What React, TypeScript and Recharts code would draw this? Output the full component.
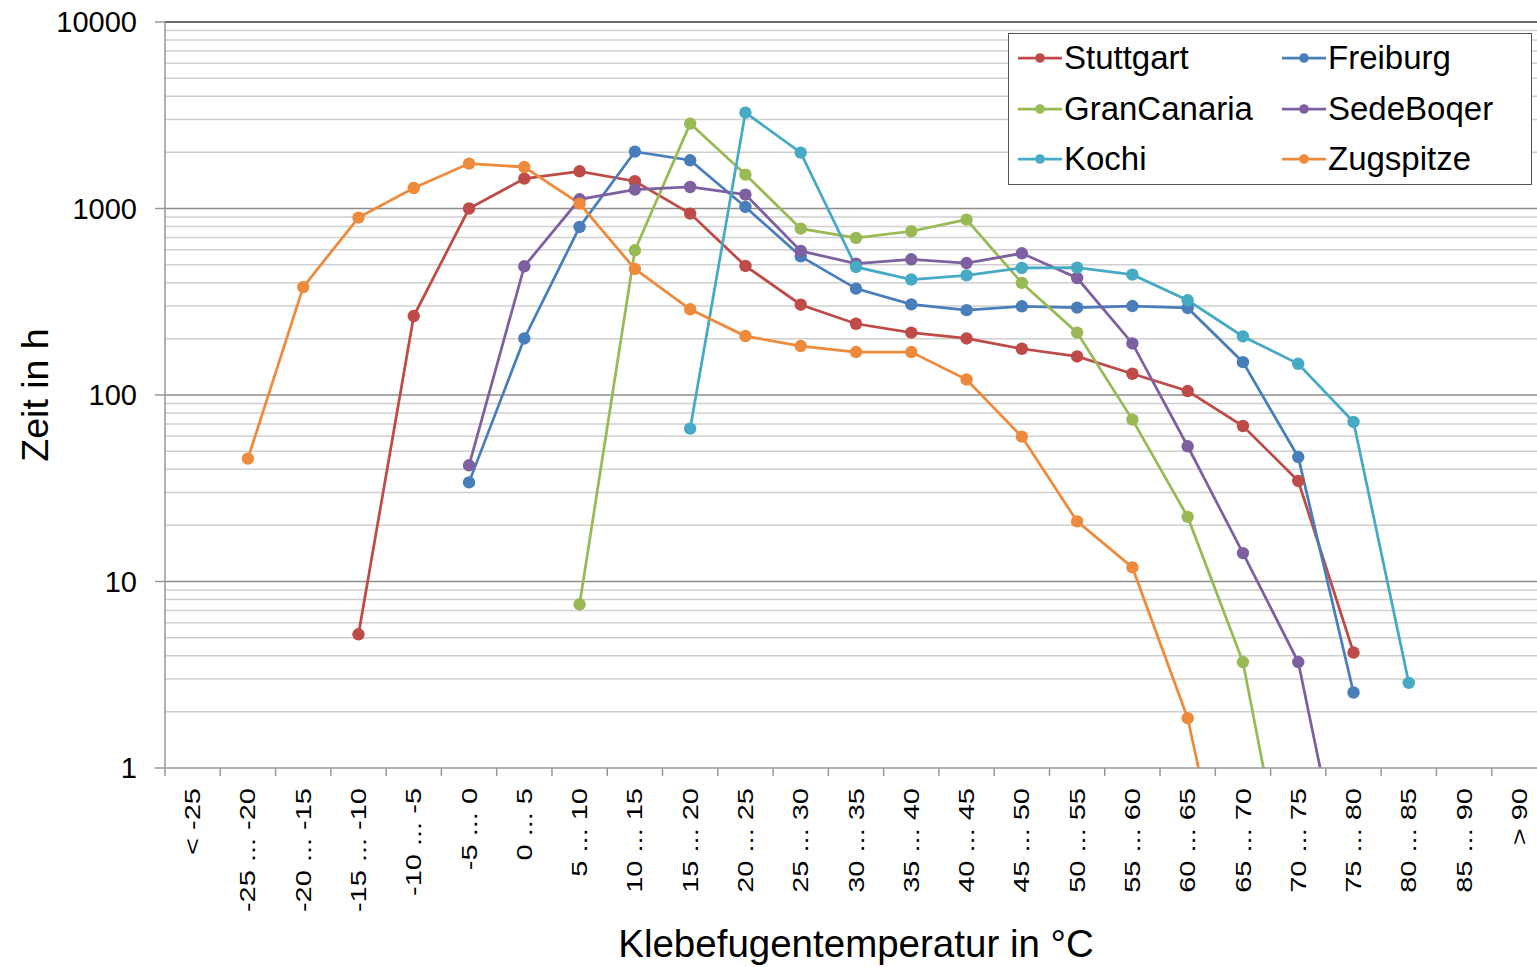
import { LineChart, Line, XAxis, YAxis, CartesianGrid, ReferenceLine, Legend, Label } from 'recharts';

const FONT = '"Liberation Sans", Arial, Helvetica, sans-serif';

// temperature classes on the x axis
const categories = [
  '< -25', '-25 ... -20', '-20 ... -15', '-15 ... -10', '-10 ... -5', '-5 ... 0',
  '0 ... 5', '5 ... 10', '10 ... 15', '15 ... 20', '20 ... 25', '25 ... 30',
  '30 ... 35', '35 ... 40', '40 ... 45', '45 ... 50', '50 ... 55', '55 ... 60',
  '60 ... 65', '65 ... 70', '70 ... 75', '75 ... 80', '80 ... 85', '85 ... 90', '> 90',
];

// hours per temperature class, one array per site (null = no hours in that class)
const stuttgart = [null, null, null, 5.21, 265, 1000, 1446, 1583, 1400, 939, 492, 305, 241, 216, 201, 177, 161, 130, 105, 68.2, 34.6, 4.16, null, null, null];
const freiburg = [null, null, null, null, null, 34.0, 201, 796, 2018, 1814, 1019, 554, 372, 306, 285, 299, 294, 300, 293, 150, 46.5, 2.54, null, null, null];
const granCanaria = [null, null, null, null, null, null, null, 7.55, 597, 2853, 1520, 780, 695, 755, 872, 399, 216, 73.8, 22.2, 3.7, 0.108, null, null, null, null];
const sedeBoqer = [null, null, null, null, null, 42.0, 490, 1120, 1263, 1304, 1187, 592, 506, 534, 510, 575, 424, 189, 53.1, 14.2, 3.7, 0.137, null, null, null];
const kochi = [null, null, null, null, null, null, null, null, null, 66.0, 3268, 1994, 486, 416, 438, 480, 482, 442, 322, 206, 147, 71.7, 2.86, null, null];
const zugspitze = [null, 45.6, 379, 894, 1288, 1741, 1669, 1062, 474, 288, 207, 183, 170, 170, 121, 59.8, 21.0, 11.9, 1.85, 0.08, null, null, null, null, null];

const series = [
  { key: 'stuttgart', name: 'Stuttgart', color: '#BE4B48', values: stuttgart },
  { key: 'freiburg', name: 'Freiburg', color: '#4A7EBB', values: freiburg },
  { key: 'granCanaria', name: 'GranCanaria', color: '#98B954', values: granCanaria },
  { key: 'sedeBoqer', name: 'SedeBoqer', color: '#7D60A0', values: sedeBoqer },
  { key: 'kochi', name: 'Kochi', color: '#46AAC5', values: kochi },
  { key: 'zugspitze', name: 'Zugspitze', color: '#EE8A3C', values: zugspitze },
];

const decades = [1, 10, 100, 1000, 10000];
const minorSteps = [2, 3, 4, 5, 6, 7, 8, 9];
const minorGrid = decades.slice(0, -1).flatMap((d) => minorSteps.map((m) => d * m));

const data = categories.map((cat, i) => {
  const row: any = { cat };
  series.forEach((s) => {
    row[s.key] = s.values[i];
  });
  return row;
});

const CHART_W = 1560;
const CHART_H = 967;
const Y_AXIS_W = 165;
const MARGIN_TOP = 22;
const MARGIN_RIGHT = 13;
const X_AXIS_H = 199;
const PLOT_BOTTOM = CHART_H - X_AXIS_H;
const BAND = (CHART_W - Y_AXIS_W - MARGIN_RIGHT) / categories.length;

// rotated (slightly condensed) category label plus tick marks on the class boundaries
function CategoryTick(props: any) {
  const { x, payload, index } = props;
  const ty = PLOT_BOTTOM + 20;
  const left = x - BAND / 2;
  return (
    <g>
      <line x1={left} x2={left} y1={PLOT_BOTTOM} y2={PLOT_BOTTOM + 8} stroke='#999' strokeWidth={1.5} />
      {index === categories.length - 1 && (
        <line x1={x + BAND / 2} x2={x + BAND / 2} y1={PLOT_BOTTOM} y2={PLOT_BOTTOM + 8} stroke='#999' strokeWidth={1.5} />
      )}
      <text
        x={0}
        y={0}
        transform={`translate(${x}, ${ty}) rotate(-90) scale(1, 0.74)`}
        textAnchor='end'
        dominantBaseline='central'
        fontSize={29}
        fontFamily={FONT}
        fill='#000'>
        {payload.value}
      </text>
    </g>
  );
}

// two-column legend box, same order as the series list
function LegendBox() {
  return (
    <div
      style={{
        width: 524,
        height: 152,
        boxSizing: 'border-box',
        border: '1.5px solid #555',
        background: '#fff',
        position: 'relative',
        fontFamily: FONT,
      }}>
      {series.map((s, i) => {
        const col = i % 2;
        const row = Math.floor(i / 2);
        return (
          <div
            key={s.key}
            style={{
              position: 'absolute',
              left: col ? 273 : 9,
              top: 24 + row * 50.5 - 20,
              height: 40,
              display: 'flex',
              alignItems: 'center',
            }}>
            <svg width={44} height={14}>
              <line x1={0} x2={44} y1={7} y2={7} stroke={s.color} strokeWidth={2.75} />
              <circle cx={22} cy={7} r={4.8} fill={s.color} />
            </svg>
            <span style={{ fontSize: 33, lineHeight: '40px', marginLeft: 2, color: '#000' }}>{s.name}</span>
          </div>
        );
      })}
    </div>
  );
}

export default function App() {
  return (
    <div
      style={{
        position: 'absolute',
        left: 0,
        top: 0,
        width: 1537,
        height: 967,
        overflow: 'hidden',
        background: '#fff',
        fontFamily: FONT,
      }}>
      <LineChart
        width={CHART_W}
        height={CHART_H}
        data={data}
        margin={{ top: MARGIN_TOP, right: MARGIN_RIGHT, bottom: 0, left: 0 }}>
        <CartesianGrid vertical={false} horizontalValues={minorGrid} stroke='#cfcfcf' strokeWidth={1.5} />
        {decades.slice(1).map((d) => (
          <ReferenceLine key={d} y={d} stroke={d === 10000 ? '#3a3a3a' : '#8c8c8c'} strokeWidth={1.5} />
        ))}
        <XAxis
          dataKey='cat'
          scale='band'
          interval={0}
          height={X_AXIS_H}
          tick={<CategoryTick />}
          tickLine={false}
          stroke='#999'
          strokeWidth={1.5}>
          <Label
            value='Klebefugentemperatur in °C'
            position='insideBottom'
            offset={10}
            fontSize={38.5}
            fill='#000'
            fontFamily={FONT}
          />
        </XAxis>
        <YAxis
          scale='log'
          domain={[1, 10000]}
          allowDataOverflow
          ticks={decades}
          interval={0}
          width={Y_AXIS_W}
          tickSize={10}
          tickMargin={18}
          stroke='#999'
          strokeWidth={1.5}
          tick={{ fontSize: 29, fill: '#000', fontFamily: FONT }}>
          <Label
            value='Zeit in h'
            angle={-90}
            position='insideLeft'
            offset={35}
            fontSize={37.5}
            fill='#000'
            fontFamily={FONT}
            style={{ textAnchor: 'middle' }}
          />
        </YAxis>
        <Legend
          layout='vertical'
          align='center'
          verticalAlign='middle'
          content={<LegendBox />}
          wrapperStyle={{ left: 1008, top: 33, width: 524, height: 152 }}
        />
        {series.map((s) => (
          <Line
            key={s.key}
            dataKey={s.key}
            name={s.name}
            stroke={s.color}
            strokeWidth={2.75}
            dot={{ r: 6.2, fill: s.color, stroke: s.color, strokeWidth: 0 }}
            activeDot={false}
            isAnimationActive={false}
          />
        ))}
      </LineChart>
    </div>
  );
}
